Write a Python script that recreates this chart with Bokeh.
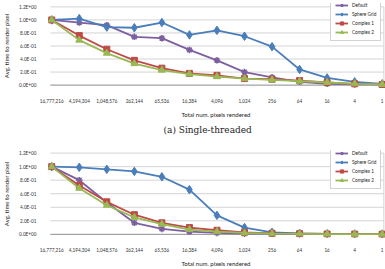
from bokeh.plotting import figure
from bokeh.layouts import column
from bokeh.models import (Range1d, FixedTicker, Legend, LegendItem, Title,
                          CustomJSTickFormatter)
from bokeh.embed import file_html
from bokeh.resources import INLINE

# Total number of pixels rendered (x categories)
pixels = ["16,777,216", "4,194,304", "1,048,576", "262,144", "65,536", "16,384",
          "4,096", "1,024", "256", "64", "16", "4", "1"]

y_ticks = [0.0, 0.2, 0.4, 0.6, 0.8, 1.0, 1.2]
y_tick_labels = ["0.0E+00", "2.0E-01", "4.0E-01", "6.0E-01", "8.0E-01", "1.0E+00", "1.2E+00"]

series_names = ["Default", "Sphere Grid", "Complex 1", "Complex 2"]

# (a) single-threaded: average time to render a pixel, normalised
default_st = [1.00, 0.96, 0.92, 0.74, 0.72, 0.54, 0.38, 0.20, 0.12, 0.05, 0.02, 0.01, 0.01]
sphere_st = [1.00, 1.02, 0.89, 0.88, 0.96, 0.77, 0.84, 0.75, 0.59, 0.24, 0.11, 0.05, 0.02]
complex1_st = [1.00, 0.76, 0.55, 0.38, 0.26, 0.18, 0.15, 0.10, 0.09, 0.07, 0.04, 0.02, 0.01]
complex2_st = [1.00, 0.69, 0.49, 0.33, 0.23, 0.17, 0.13, 0.10, 0.08, 0.06, 0.04, 0.02, 0.01]

# (b) multi-threaded
default_mt = [1.00, 0.80, 0.47, 0.17, 0.08, 0.04, 0.02, 0.01, 0.01, 0.005, 0.003, 0.002, 0.002]
sphere_mt = [1.00, 0.99, 0.96, 0.93, 0.85, 0.66, 0.28, 0.10, 0.03, 0.015, 0.008, 0.005, 0.004]
complex1_mt = [1.00, 0.72, 0.48, 0.29, 0.17, 0.10, 0.06, 0.03, 0.015, 0.01, 0.005, 0.003, 0.002]
complex2_mt = [1.00, 0.68, 0.43, 0.25, 0.15, 0.07, 0.04, 0.02, 0.01, 0.007, 0.004, 0.002, 0.002]

colors = ["#7D60A0", "#4A7EBB", "#BE4B48", "#98B954"]
markers = ["asterisk", "diamond", "square", "triangle"]
marker_sizes = [6.5, 8.5, 6, 7]

FONT = "Lato"


def make_chart(values, height, top, frame_h, y_lo, y_hi, legend_y, caption=None):
    idx = list(range(len(pixels)))
    p = figure(width=385, height=height, output_backend="svg", toolbar_location=None,
               x_range=Range1d(-0.19, len(pixels) - 1 + 0.12),
               y_range=Range1d(y_lo, y_hi),
               min_border_left=36, min_border_right=0, min_border_top=top,
               min_border_bottom=height - top - frame_h)
    p.outline_line_color = None
    p.xgrid.visible = False
    p.ygrid.visible = False
    p.background_fill_color = "white"

    # horizontal gridlines and plot-area right edge
    x0 = idx[0] - 0.05
    x1 = idx[-1] + 0.06
    p.segment(x0=x0, x1=x1, y0=y_ticks[1:], y1=y_ticks[1:], line_color="#D4D4D4", line_width=1)
    p.segment(x0=x0, x1=x1, y0=y_ticks[0], y1=y_ticks[0], line_color="#8C8C8C", line_width=1)
    p.segment(x0=x1, x1=x1, y0=y_ticks[0], y1=y_ticks[-1], line_color="#D4D4D4", line_width=1)

    items = []
    for name, vals, c, m, s in zip(series_names, values, colors, markers, marker_sizes):
        ln = p.line(idx, vals, line_color=c, line_width=1.8)
        sc = p.scatter(idx, vals, marker=m, size=s, fill_color=c, line_color=c,
                       line_width=1.6 if m == "asterisk" else 1)
        items.append(LegendItem(label=name, renderers=[ln, sc]))

    legend = Legend(items=items, location=(284, legend_y),
                    label_text_font=FONT, label_text_font_size="4.7px",
                    label_text_color="#222222",
                    glyph_width=13, glyph_height=8, label_height=8,
                    spacing=1, padding=4, margin=0, label_standoff=4,
                    border_line_color="#A6A6A6", border_line_width=1,
                    background_fill_alpha=1)
    p.add_layout(legend)

    xa = p.xaxis[0]
    xa.ticker = FixedTicker(ticks=idx)
    xa.major_label_overrides = {i: lab for i, lab in enumerate(pixels)}
    xa.axis_label = "Total num. pixels rendered"
    ya = p.yaxis[0]
    ya.ticker = FixedTicker(ticks=y_ticks)
    ya.formatter = CustomJSTickFormatter(args=dict(yvals=y_ticks, ylabels=y_tick_labels), code="""
        let best = 0, d = 1e9;
        for (let k = 0; k < yvals.length; k++) {
            const e = Math.abs(yvals[k] - tick);
            if (e < d) { d = e; best = k; }
        }
        return ylabels[best];
    """)
    ya.axis_label = "Avg. time to render pixel"
    for ax in (xa, ya):
        ax.axis_line_color = None
        ax.major_tick_line_color = None
        ax.minor_tick_line_color = None
        ax.major_label_text_font = FONT
        ax.major_label_text_font_size = "4.7px"
        ax.major_label_text_color = "#333333"
        ax.axis_label_text_font = FONT
        ax.axis_label_text_font_size = "6px"
        ax.axis_label_text_font_style = "normal"
        ax.axis_label_text_color = "#222222"
    xa.major_label_standoff = 4
    xa.axis_label_standoff = 5
    ya.major_label_standoff = 4
    ya.axis_label_standoff = 6

    if caption:
        p.add_layout(Title(text=caption, align="left", offset=117,
                           text_font="DejaVu Serif", text_font_size="9px",
                           text_font_style="normal", text_color="#222222",
                           standoff=5), "below")
    return p


p1 = make_chart([default_st, sphere_st, complex1_st, complex2_st],
                height=137, top=3, frame_h=93, y_lo=-0.052, y_hi=1.252,
                legend_y=47, caption="(a) Single-threaded")
p2 = make_chart([default_mt, sphere_mt, complex1_mt, complex2_mt],
                height=132, top=13, frame_h=90, y_lo=-0.047, y_hi=1.2386,
                legend_y=48)

layout = column(p1, p2, spacing=0)
open("out.html", "w").write(file_html(layout, INLINE))
